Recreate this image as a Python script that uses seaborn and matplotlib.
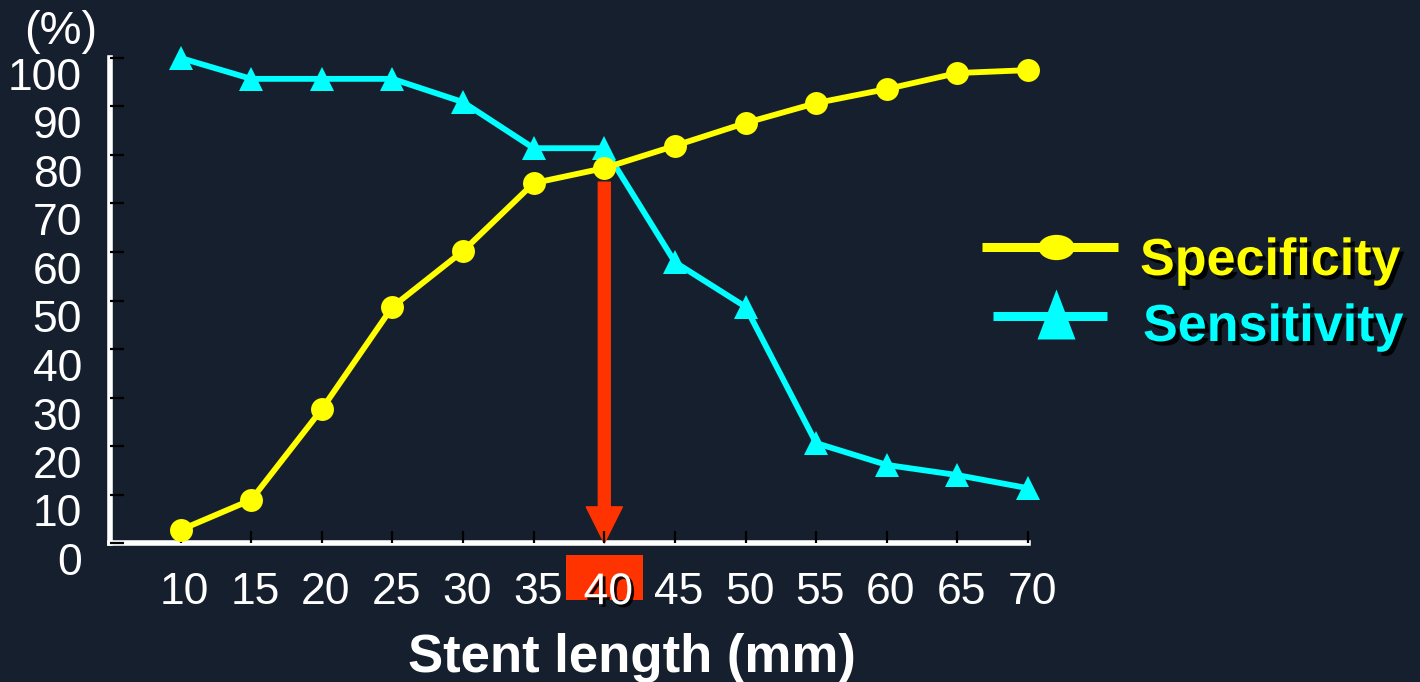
import numpy as np
import pandas as pd
import matplotlib
matplotlib.use("Agg")
import matplotlib.pyplot as plt
import matplotlib.patheffects as pe
from matplotlib.transforms import ScaledTranslation, blended_transform_factory
from matplotlib.patches import Rectangle, FancyArrowPatch
from matplotlib.lines import Line2D
from matplotlib.path import Path
import seaborn as sns

# ---- data ----
stent_length = [10, 15, 20, 25, 30, 35, 40, 45, 50, 55, 60, 65, 70]
specificity = [2.7, 8.9, 27.6, 48.7, 60.2, 74.2, 77.3, 81.9, 86.6, 90.7, 93.6, 96.9, 97.5]
sensitivity = [100, 95.7, 95.7, 95.7, 90.9, 81.4, 81.4, 57.9, 48.7, 20.6, 16.1, 14.0, 11.3]
x_tick_labels = ["10", "15", "20", "25", "30", "35", "40", "45", "50", "55", "60", "65", "70"]
y_ticks = [0, 10, 20, 30, 40, 50, 60, 70, 80, 90, 100]
series_names = ["Specificity", "Sensitivity"]
cutoff = 40
arrow_start = 74.4

BG = "#161f2d"
YEL = "#ffff00"
CYA = "#00ffff"
RED = "#ff3300"

sns.set_theme(style="white")
plt.rcParams["font.family"] = ["Liberation Sans", "DejaVu Sans"]

df = pd.DataFrame({"x": stent_length, "spec": specificity, "sens": sensitivity})

fig = plt.figure(figsize=(14.2, 6.82), dpi=100, facecolor=BG)
W, H = 1420, 682
ax = fig.add_axes([110 / W, (H - 543) / H, 918 / W, 485 / H])
ax.set_facecolor(BG)

sns.lineplot(data=df, x="x", y="sens", ax=ax, color=CYA, linewidth=4.2,
             marker="^", markersize=17, markeredgewidth=0, clip_on=False, zorder=3)
sns.lineplot(data=df, x="x", y="spec", ax=ax, color=YEL, linewidth=4.2,
             marker="o", markersize=16.5, markeredgewidth=0, clip_on=False, zorder=4)

ax.set_xlim(5, 70)
ax.set_ylim(0, 100)
ax.set_xticks(stent_length)
ax.set_xticklabels(x_tick_labels)
ax.set_yticks(y_ticks)
ax.set_yticklabels([str(v) for v in y_ticks])
ax.set_xlabel("")
ax.set_ylabel("")

for s in ["top", "right"]:
    ax.spines[s].set_visible(False)
for s in ["left", "bottom"]:
    ax.spines[s].set_color("white")
    ax.spines[s].set_linewidth(4)
    ax.spines[s].set_zorder(2)

ax.tick_params(axis="both", which="major", direction="in", color="black",
               labelcolor="white", labelsize=32, width=1.6)
ax.tick_params(axis="y", length=10, pad=20, left=True)
ax.tick_params(axis="x", length=8.5, pad=21, bottom=True)
ax.set_axisbelow(False)

# y tick labels sit slightly below their ticks
for t in ax.yaxis.get_major_ticks():
    t.label1.set_transform(t.label1.get_transform() +
                           ScaledTranslation(0, -16 / 100, fig.dpi_scale_trans))
for t in ax.xaxis.get_major_ticks():
    t.label1.set_transform(t.label1.get_transform() +
                           ScaledTranslation(4 / 100, 0, fig.dpi_scale_trans))

# highlight on the cutoff tick label
blend = blended_transform_factory(ax.transData, fig.transFigure)
ax.add_patch(Rectangle((37.3, (H - 600) / H), 5.45, 45 / H, transform=blend,
                       facecolor=RED, edgecolor="none", clip_on=False, zorder=1))
for t, lab in zip(ax.xaxis.get_major_ticks(), x_tick_labels):
    if lab == str(cutoff):
        t.label1.set_path_effects([pe.withSimplePatchShadow(offset=(2, -2),
                                   shadow_rgbFace="black", alpha=0.9)])

# red arrow
arr = FancyArrowPatch((cutoff, arrow_start), (cutoff, 0),
                      arrowstyle="simple,head_width=26,head_length=26,tail_width=8.6",
                      mutation_scale=1, color=RED, shrinkA=0, shrinkB=0,
                      clip_on=False, zorder=2.5)
ax.add_patch(arr)

# axis labels
ax.set_xlabel("Stent length (mm)", fontsize=38, fontweight="bold", color="white")
ax.xaxis.set_label_coords((632 - 110) / 918, (543 - 633) / 485)
fig.text(61 / W, (H - 44) / H, "(%)", fontsize=34, color="white",
         ha="center", va="baseline")

# legend
ell = Path.unit_circle()
ell = Path(ell.vertices * np.array([1.0, 0.7]), ell.codes)
tri = Path([(-0.38, -0.5), (0.38, -0.5), (0.0, 0.5), (-0.38, -0.5)],
           [Path.MOVETO, Path.LINETO, Path.LINETO, Path.CLOSEPOLY])
fig.add_artist(Line2D([982 / W, 1118 / W], [(H - 247) / H] * 2, color=YEL, lw=6.5,
                      solid_capstyle="butt", transform=fig.transFigure))
fig.add_artist(Line2D([1056 / W], [(H - 247) / H], color=YEL, marker=ell, markersize=26,
                      markeredgewidth=0, linestyle="none", transform=fig.transFigure))
fig.add_artist(Line2D([993 / W, 1107 / W], [(H - 316) / H] * 2, color=CYA, lw=6.5,
                      solid_capstyle="butt", transform=fig.transFigure))
fig.add_artist(Line2D([1056 / W], [(H - 314) / H], color=CYA, marker=tri, markersize=36,
                      markeredgewidth=0, linestyle="none", transform=fig.transFigure))
shadow = [pe.withSimplePatchShadow(offset=(3, -3), shadow_rgbFace="black", alpha=0.9)]
fig.text(1140 / W, (H - 275) / H, series_names[0], fontsize=37.5, fontweight="bold",
         color=YEL, ha="left", va="baseline", path_effects=shadow)
fig.text(1143 / W, (H - 341) / H, series_names[1], fontsize=37.5, fontweight="bold",
         color=CYA, ha="left", va="baseline", path_effects=shadow)

fig.savefig("out.png", dpi=100, facecolor=BG)
